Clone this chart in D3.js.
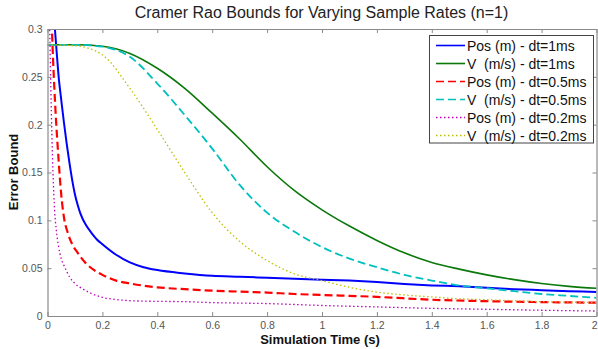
<!DOCTYPE html>
<html>
<head>
<meta charset="utf-8">
<script src="https://cdn.jsdelivr.net/npm/d3@7"></script>
<style>
  html, body { margin: 0; padding: 0; background: #fff; }
  svg { display: block; font-family: Arial, "Liberation Sans", sans-serif; }
</style>
</head>
<body>
<svg id="chart" width="598" height="349"></svg>
<script>
// ---- data ----
const title = "Cramer Rao Bounds for Varying Sample Rates (n=1)";
const xLabel = "Simulation Time (s)";
const yLabel = "Error Bound";
const xTicks = [0, 0.2, 0.4, 0.6, 0.8, 1, 1.2, 1.4, 1.6, 1.8, 2];
const yTicks = [0, 0.05, 0.1, 0.15, 0.2, 0.25, 0.3];
const seriesNames = [
  "Pos (m) - dt=1ms", "V  (m/s) - dt=1ms",
  "Pos (m) - dt=0.5ms", "V  (m/s) - dt=0.5ms",
  "Pos (m) - dt=0.2ms", "V  (m/s) - dt=0.2ms"
];

// Position, dt = 1 ms
const posT1 = [0.02, 0.027, 0.035, 0.04, 0.05, 0.06, 0.07, 0.08, 0.09, 0.1, 0.11, 0.12, 0.14, 0.16, 0.18, 0.2, 0.25, 0.3, 0.35, 0.4, 0.5, 0.6, 0.7, 0.8, 0.9, 1.0, 1.1, 1.2, 1.3, 1.4, 1.5, 1.6, 1.7, 1.8, 1.9, 2.0];
const posV1 = [0.33, 0.30, 0.27, 0.252, 0.226, 0.202, 0.180, 0.160, 0.142, 0.127, 0.116, 0.107, 0.095, 0.087, 0.080, 0.075, 0.064, 0.056, 0.051, 0.048, 0.0445, 0.042, 0.041, 0.040, 0.039, 0.038, 0.037, 0.0355, 0.0335, 0.032, 0.031, 0.0295, 0.028, 0.027, 0.026, 0.025];

// Velocity, dt = 1 ms
const velT1 = [0, 0.1, 0.2, 0.3, 0.4, 0.5, 0.6, 0.7, 0.8, 0.9, 1.0, 1.1, 1.2, 1.3, 1.4, 1.5, 1.6, 1.7, 1.8, 1.9, 2.0];
const velV1 = [0.2835, 0.2835, 0.282, 0.2745, 0.259, 0.238, 0.212, 0.185, 0.156, 0.131, 0.111, 0.094, 0.079, 0.066, 0.056, 0.049, 0.043, 0.038, 0.034, 0.031, 0.029];

// Position, dt = 0.5 ms
const posT05 = [0.01, 0.016, 0.02, 0.03, 0.04, 0.05, 0.06, 0.075, 0.09, 0.11, 0.14, 0.17, 0.2, 0.25, 0.3, 0.4, 0.5, 0.6, 0.7, 0.8, 0.9, 1.0, 1.2, 1.4, 1.6, 1.8, 2.0];
const posV05 = [0.32, 0.30, 0.27, 0.21, 0.165, 0.127, 0.103, 0.086, 0.075, 0.066, 0.055, 0.048, 0.043, 0.037, 0.034, 0.030, 0.028, 0.0265, 0.0255, 0.0245, 0.023, 0.022, 0.020, 0.017, 0.0155, 0.0145, 0.014];

// Velocity, dt = 0.5 ms
const velT05 = [0, 0.1, 0.2, 0.3, 0.4, 0.5, 0.6, 0.7, 0.8, 0.9, 1.0, 1.1, 1.2, 1.3, 1.4, 1.5, 1.6, 1.7, 1.8, 1.9, 2.0];
const velV05 = [0.2835, 0.2835, 0.2815, 0.271, 0.243, 0.210, 0.175, 0.137, 0.108, 0.088, 0.072, 0.060, 0.051, 0.043, 0.037, 0.032, 0.029, 0.026, 0.023, 0.021, 0.019];

// Position, dt = 0.2 ms
const posT02 = [0.005, 0.008, 0.012, 0.016, 0.02, 0.026, 0.032, 0.04, 0.05, 0.063, 0.08, 0.1, 0.13, 0.16, 0.2, 0.25, 0.3, 0.4, 0.5, 0.6, 0.7, 0.8, 0.9, 1.0, 1.2, 1.4, 1.6, 1.8, 2.0];
const posV02 = [0.32, 0.30, 0.24, 0.19, 0.15, 0.11, 0.09, 0.073, 0.06, 0.051, 0.041, 0.034, 0.028, 0.0235, 0.0195, 0.0172, 0.016, 0.0153, 0.015, 0.014, 0.0135, 0.013, 0.012, 0.011, 0.0095, 0.008, 0.007, 0.006, 0.0052];

// Velocity, dt = 0.2 ms
const velT02 = [0, 0.1, 0.2, 0.3, 0.4, 0.5, 0.6, 0.7, 0.8, 0.9, 1.0, 1.1, 1.2, 1.3, 1.4, 1.5, 1.6, 1.7, 1.8, 1.9, 2.0];
const velV02 = [0.2835, 0.2825, 0.273, 0.238, 0.195, 0.150, 0.108, 0.078, 0.058, 0.044, 0.037, 0.030, 0.025, 0.022, 0.020, 0.018, 0.017, 0.016, 0.015, 0.0145, 0.014];

// ---- layout ----
const W = 598, H = 349;
const L = 47.5, R = 596.5, T = 29, B = 316;

const svg = d3.select("#chart");
const x = d3.scaleLinear().domain([0, 2]).range([L, R]);
const y = d3.scaleLinear().domain([0, 0.3]).range([B, T]);

const axisGrey = "#8a8a8a";
const labelGrey = "#555";

svg.append("rect").attr("x", L).attr("y", T).attr("width", R - L).attr("height", B - T).attr("fill", "#fff");

svg.append("defs").append("clipPath").attr("id", "clip")
  .append("rect").attr("x", L).attr("y", T).attr("width", R - L).attr("height", B - T);

const series = [
  { t: posT1, v: posV1, color: "#0000ff", width: 2, dash: null },
  { t: velT1, v: velV1, color: "#0a780a", width: 1.6, dash: null },
  { t: posT05, v: posV05, color: "#ff0000", width: 2.2, dash: "8,4" },
  { t: velT05, v: velV05, color: "#00bfbf", width: 1.8, dash: "8,4" },
  { t: posT02, v: posV02, color: "#bf00bf", width: 1.3, dash: "1.5,2.5" },
  { t: velT02, v: velV02, color: "#bfbf00", width: 1.3, dash: "1.5,2.5" }
];

const line = d3.line().x(d => x(d[0])).y(d => y(d[1])).curve(d3.curveMonotoneX);
const plot = svg.append("g").attr("clip-path", "url(#clip)");
series.forEach(s => {
  const pts = s.t.map((t, i) => [t, s.v[i]]);
  plot.append("path").datum(pts)
    .attr("d", line)
    .attr("fill", "none")
    .attr("stroke", s.color)
    .attr("stroke-width", s.width)
    .attr("stroke-dasharray", s.dash)
    .attr("stroke-linejoin", "round");
});

// ---- axes (MATLAB style: ticks inside, box around) ----
function styleAxis(g, showText) {
  g.selectAll(".domain").attr("stroke", axisGrey).attr("stroke-width", 1.2);
  g.selectAll(".tick line").attr("stroke", axisGrey);
  g.selectAll(".tick text").attr("fill", labelGrey).style("font-size", "10.5px")
    .style("font-family", "Arial, 'Liberation Sans', sans-serif");
  if (!showText) g.selectAll(".tick text").remove();
}
const fmt = d => String(d);

svg.append("g").attr("transform", `translate(0,${B})`)
  .call(d3.axisBottom(x).tickValues(xTicks).tickFormat(fmt).tickSizeInner(-4).tickSizeOuter(0).tickPadding(6))
  .call(g => styleAxis(g, true))
  .call(g => g.selectAll(".tick text").filter(d => d === 2).attr("text-anchor", "end").attr("dx", "0.5"));
svg.append("g").attr("transform", `translate(0,${T})`)
  .call(d3.axisTop(x).tickValues(xTicks).tickSizeInner(-4).tickSizeOuter(0))
  .call(g => styleAxis(g, false));
svg.append("g").attr("transform", `translate(${L},0)`)
  .call(d3.axisLeft(y).tickValues(yTicks).tickFormat(fmt).tickSizeInner(-4).tickSizeOuter(0).tickPadding(5))
  .call(g => styleAxis(g, true));
svg.append("g").attr("transform", `translate(${R},0)`)
  .call(d3.axisRight(y).tickValues(yTicks).tickSizeInner(-4).tickSizeOuter(0))
  .call(g => styleAxis(g, false));

// ---- titles ----
svg.append("text").attr("x", 321.5).attr("y", 18)
  .attr("text-anchor", "middle").attr("fill", "#222")
  .style("font-size", "16px").text(title);

svg.append("text").attr("x", 320).attr("y", 344)
  .attr("text-anchor", "middle").attr("fill", "#111")
  .style("font-size", "13px").style("font-weight", "bold").text(xLabel);

svg.append("text").attr("transform", "translate(17.5,172) rotate(-90)")
  .attr("text-anchor", "middle").attr("fill", "#111")
  .style("font-size", "13px").style("font-weight", "bold").text(yLabel);

// ---- legend ----
const lg = svg.append("g");
lg.append("rect").attr("x", 429.5).attr("y", 35.5).attr("width", 164).attr("height", 107.5)
  .attr("fill", "#fff").attr("stroke", "#444").attr("stroke-width", 1);
seriesNames.forEach((name, i) => {
  const cy = 45.5 + 18 * i;
  const s = series[i];
  lg.append("line").attr("x1", 436).attr("x2", 465).attr("y1", cy).attr("y2", cy)
    .attr("stroke", s.color).attr("stroke-width", Math.min(s.width, 1.6))
    .attr("stroke-dasharray", s.dash);
  lg.append("text").attr("x", 467).attr("y", cy).attr("dy", "0.36em")
    .attr("fill", "#111").style("font-size", "14px").style("white-space", "pre")
    .text(name);
});
</script>
</body>
</html>
